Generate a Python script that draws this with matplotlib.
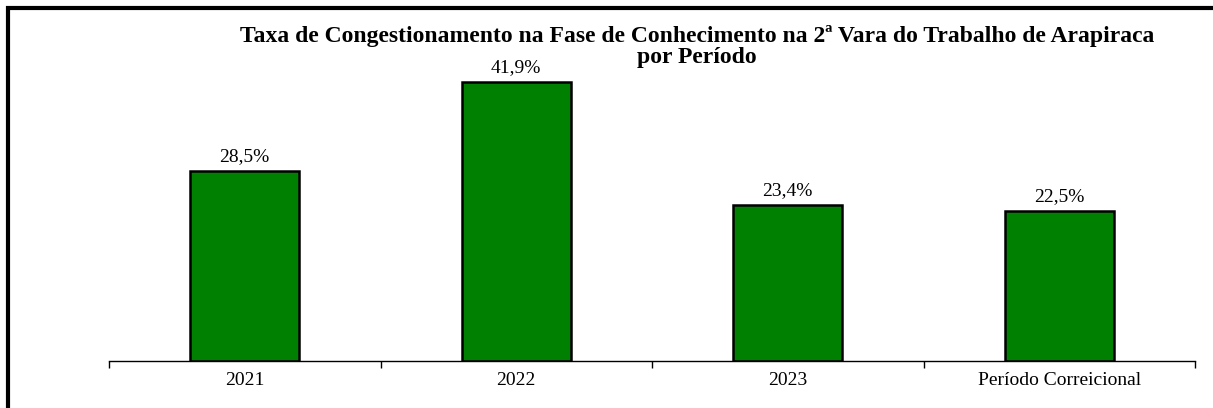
import matplotlib.pyplot as plt
from matplotlib.lines import Line2D

categories = ["2021", "2022", "2023", "Período Correicional"]
values = [28.5, 41.9, 23.4, 22.5]
labels = ["28,5%", "41,9%", "23,4%", "22,5%"]

W, H = 1213, 408
fig = plt.figure(figsize=(W / 100, H / 100), dpi=100)
ax = fig.add_axes([109 / W, 47 / H, (1195 - 109) / W, (361 - 50) / H])

x = range(len(categories))
bars = ax.bar(x, values, width=0.4, color="#008000", edgecolor="black", linewidth=1.8)
for b, lab in zip(bars, labels):
    ax.text(b.get_x() + b.get_width() / 2, b.get_height() + 0.9, lab,
            ha="center", va="bottom", fontsize=14, family="Liberation Serif")

ax.set_xlim(-0.5, len(categories) - 0.5)
ax.set_ylim(0, 46.7)
ax.set_xticks([i - 0.5 for i in range(len(categories) + 1)])
ax.set_xticklabels([])
ax.set_xticks(list(x), minor=True)
ax.set_xticklabels(categories, minor=True, fontsize=14, family="Liberation Serif")
ax.tick_params(axis="x", which="major", direction="out", length=5, width=1)
ax.tick_params(axis="x", which="minor", length=0, pad=8)
ax.set_yticks([])
for s in ["left", "right", "top"]:
    ax.spines[s].set_visible(False)
ax.spines["bottom"].set_linewidth(1)

fig.text(697 / W, 1 - 36 / H, "Taxa de Congestionamento na Fase de Conhecimento na 2ª Vara do Trabalho de Arapiraca",
         ha="center", va="center", fontsize=17, fontweight="bold", family="Liberation Serif")
fig.text(697 / W, 1 - 58 / H, "por Período",
         ha="center", va="center", fontsize=17, fontweight="bold", family="Liberation Serif")

fx = 8 / W
fy = 1 - 8 / H
fig.add_artist(Line2D([fx, fx, 1], [0, fy, fy], transform=fig.transFigure,
                      color="black", linewidth=3, solid_joinstyle="miter"))

fig.savefig("out.png", dpi=100)
